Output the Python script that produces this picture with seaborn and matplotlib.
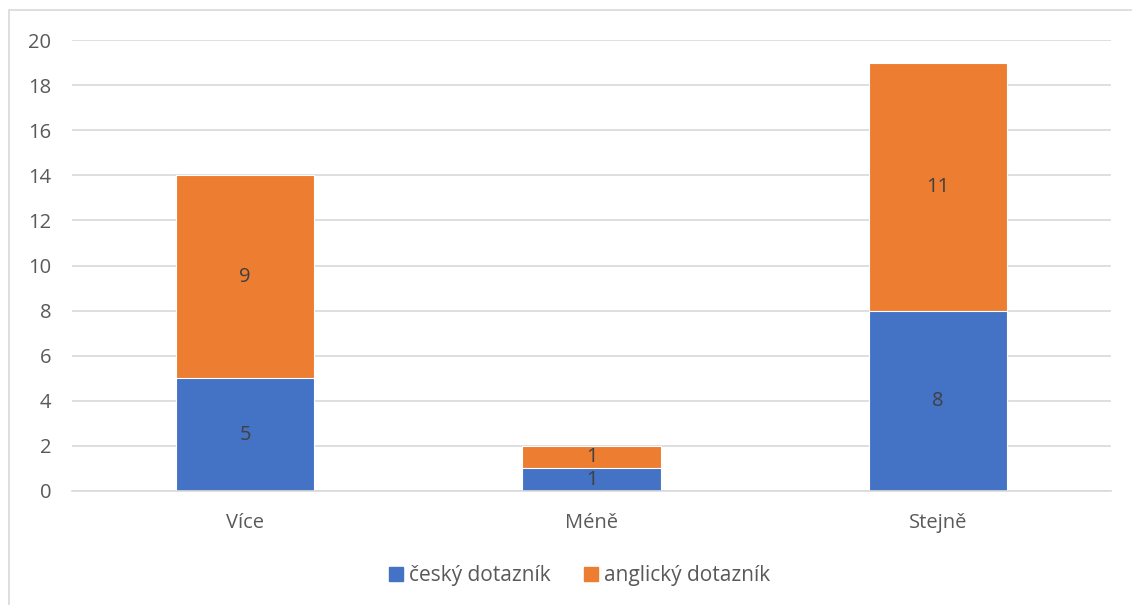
import matplotlib
matplotlib.use("Agg")
import matplotlib.pyplot as plt
import seaborn as sns
import pandas as pd
from matplotlib.patches import Rectangle, Patch

# data
categories = ["Více", "Méně", "Stejně"]
cesky = [5, 1, 8]
anglicky = [9, 1, 11]
series_names = ["český dotazník", "anglický dotazník"]

blue = "#4472C4"
orange = "#ED7D31"

df = pd.DataFrame({"kat": categories, "cesky": cesky, "anglicky": anglicky})
df["celkem"] = df["cesky"] + df["anglicky"]

sns.set_style("white")
plt.rcParams["font.family"] = ["Open Sans", "DejaVu Sans"]

fig = plt.figure(figsize=(11.32, 6.05), dpi=100)
ax = fig.add_axes([72 / 1132, 1 - 491 / 605, (1111 - 72) / 1132, (491 - 40) / 605])

# stacked: total in orange, czech part over it in blue
sns.barplot(data=df, x="kat", y="celkem", color=orange, saturation=1, width=0.4,
            edgecolor="white", linewidth=0.8, ax=ax)
sns.barplot(data=df, x="kat", y="cesky", color=blue, saturation=1, width=0.4,
            edgecolor="white", linewidth=0.8, ax=ax)

for i, r in df.iterrows():
    ax.text(i, r["cesky"] / 2, str(r["cesky"]), ha="center", va="center",
            fontsize=14.5, color="#404040")
    ax.text(i, r["cesky"] + r["anglicky"] / 2, str(r["anglicky"]), ha="center",
            va="center", fontsize=14.5, color="#404040")

ax.set_xlim(-0.5, 2.5)
ax.set_ylim(0, 20)
ax.set_yticks(range(0, 21, 2))
ax.yaxis.grid(True, color="#D9D9D9", linewidth=1.2)
ax.set_axisbelow(True)
for s in ["top", "right", "left"]:
    ax.spines[s].set_visible(False)
ax.spines["bottom"].set_color("#D9D9D9")
ax.spines["bottom"].set_linewidth(1.2)
ax.tick_params(axis="both", length=0, labelsize=14.5, colors="#595959")
ax.tick_params(axis="x", pad=16)
ax.tick_params(axis="y", pad=15)
ax.set_xlabel("")
ax.set_ylabel("")

handles = [Patch(color=blue), Patch(color=orange)]
fig.legend(handles, series_names, loc="center", bbox_to_anchor=(0.512, 1 - 576 / 605),
           ncol=2, frameon=False, fontsize=15, handlelength=0.65, handleheight=0.65,
           handletextpad=0.3, columnspacing=1.6, labelcolor="#595959")

fig.patches.append(Rectangle((8.5 / 1132, -0.1), 2, 1.1 - 10 / 605, transform=fig.transFigure,
                             fill=False, edgecolor="#D9D9D9", linewidth=1.2))

fig.savefig("out.png", dpi=100)
